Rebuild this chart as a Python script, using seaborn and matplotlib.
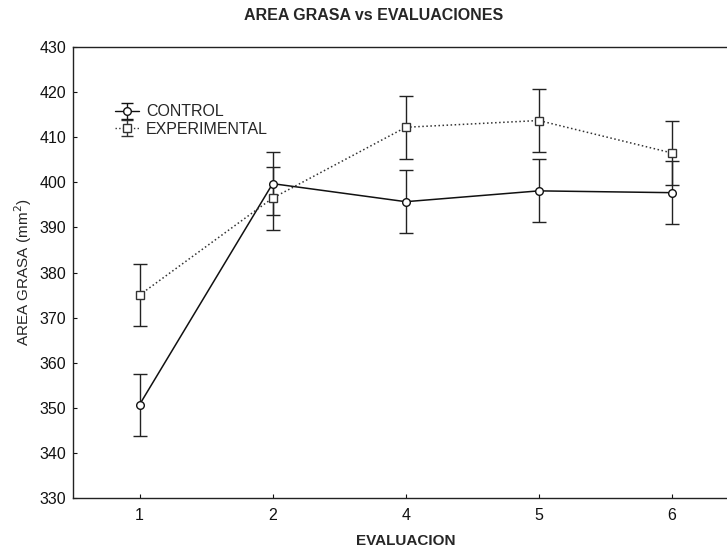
import numpy as np
import pandas as pd
import matplotlib
matplotlib.use("Agg")
import matplotlib.pyplot as plt
import seaborn as sns

# ---- data ----
evaluaciones = ["1", "2", "4", "5", "6"]
control_mean = [350.7, 399.7, 395.7, 398.1, 397.7]
control_err = [6.9, 7.0, 7.0, 7.0, 7.0]
experimental_mean = [375.0, 396.5, 412.2, 413.7, 406.5]
experimental_err = [6.8, 7.0, 7.0, 7.0, 7.0]
series_names = ["CONTROL", "EXPERIMENTAL"]
y_ticks = [330, 340, 350, 360, 370, 380, 390, 400, 410, 420, 430]

df = pd.DataFrame({
    "EVALUACION": evaluaciones * 2,
    "AREA": control_mean + experimental_mean,
    "ERR": control_err + experimental_err,
    "GRUPO": [series_names[0]] * len(evaluaciones) + [series_names[1]] * len(evaluaciones),
})

sns.set_theme(style="ticks")
plt.rcParams["font.family"] = ["Liberation Sans", "DejaVu Sans"]

W, H = 727, 551
fig = plt.figure(figsize=(W / 100, H / 100), dpi=100)
ax = fig.add_axes([73 / W, (H - 498) / H, (738.5 - 73) / W, (498 - 47) / H])

styles = {
    "CONTROL": dict(marker="o", ls="-", lw=1.0, color="#111111"),
    "EXPERIMENTAL": dict(marker="s", ls=":", lw=1.3, color="#333333"),
}

sns.pointplot(
    data=df, x="EVALUACION", y="AREA", hue="GRUPO",
    order=evaluaciones, hue_order=series_names,
    palette={"CONTROL": "#111111", "EXPERIMENTAL": "#333333"},
    markers=["o", "s"], linestyles=["-", ":"], errorbar=None,
    dodge=False, legend=False, ax=ax,
    markersize=5.5, markerfacecolor="white", markeredgewidth=1.0, linewidth=1.1,
)

# error bars at the categorical positions used by seaborn
xpos = np.arange(len(evaluaciones))
for name in series_names:
    sub = df[df["GRUPO"] == name]
    ax.errorbar(xpos, sub["AREA"].values, yerr=sub["ERR"].values, fmt="none",
                ecolor="#222222", elinewidth=1.0, capsize=4.8, capthick=1.0, zorder=1)

# legend proxies (errorbar glyph with marker)
handles = []
for name in series_names:
    st = styles[name]
    h = ax.errorbar([np.nan], [np.nan], yerr=[1], fmt=st["marker"], ls=st["ls"],
                    color=st["color"], mfc="white", ms=5.5, lw=1.0, capsize=4,
                    elinewidth=1.0, label=name)
    handles.append(h)
leg = ax.legend(handles=handles, labels=series_names, loc="upper left",
                bbox_to_anchor=(0.046, 0.898), frameon=False,
                fontsize=11.5, handlelength=1.5, handletextpad=0.45, labelspacing=0.15,
                borderpad=0.2)

ax.set_xlim(-0.5, len(evaluaciones) - 0.5)
ax.set_ylim(330, 430)
ax.set_yticks(y_ticks)
ax.set_xticks(xpos)
ax.set_xticklabels(evaluaciones)
ax.tick_params(direction="in", length=3, width=0.8, labelsize=11.5, colors="#111111")
ax.tick_params(axis="x", pad=7)
ax.tick_params(axis="y", pad=5)
for side in ["left", "bottom", "top", "right"]:
    ax.spines[side].set_visible(True)
    ax.spines[side].set_linewidth(1.0)
    ax.spines[side].set_color("#222222")

ax.set_xlabel("EVALUACION", fontsize=11, fontweight="bold", labelpad=8)
ax.set_ylabel("AREA GRASA (mm$^2$)", fontsize=11, labelpad=4)
fig.text(374 / W, 1 - 16 / H, "AREA GRASA vs EVALUACIONES", ha="center", va="center",
         fontsize=11.5, fontweight="bold")

fig.savefig("out.png", dpi=100)
